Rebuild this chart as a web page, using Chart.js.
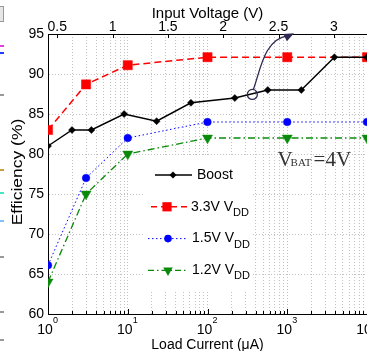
<!DOCTYPE html>
<html>
<head>
<meta charset="utf-8">
<script src="https://cdn.jsdelivr.net/npm/chart.js@4.4.1/dist/chart.umd.min.js"></script>
<style>
html, body { margin: 0; padding: 0; background: #fff; overflow: hidden; }
#wrap { width: 367px; height: 351px; position: relative; }
</style>
</head>
<body>
<div id="wrap"><canvas id="eff"></canvas></div>
<script>
// load current in uA, efficiency in %
const loadCurrentTicks = [1, 10, 100, 1000, 10000];
const voltageTicks = [0.5, 1, 1.5, 2, 2.5, 3];
const efficiencyTicks = [60, 65, 70, 75, 80, 85, 90, 95];

const boostCurrent = [1, 2, 3.5, 9, 23, 62, 220, 570, 1500, 3900, 10000];
const boostEff = [81, 83, 83, 85, 84.1, 86.4, 87, 88, 88, 92.1, 92.1];

const vddCurrent = [1, 3, 10, 100, 1000, 10000];
const vdd33Eff = [83, 88.7, 91.1, 92.1, 92.1, 92.1];
const vdd15Eff = [66.1, 77, 82, 84, 84, 84];
const vdd12Eff = [64, 75, 80, 82, 82, 82];

const voltageMin = 0.416;
const voltageMax = 3.3;

const FONT = "'Liberation Sans', Arial, sans-serif";
const NAVY = '#2e2850';
const GRID = '#c2c2c2';

function pts(xs, ys) {
    return xs.map(function (x, i) { return {x: x, y: ys[i]}; });
}

// every 1..9 step of every decade, for the dotted grid
var minorTicks = [];
for (var d = 0; d < 4; d++) {
    for (var m = 1; m < 10; m++) minorTicks.push(m * Math.pow(10, d));
}
minorTicks.push(10000);

var legendRows = [
    {text: 'Boost', sub: '', color: '#000', dash: [], style: 'diamond', lx: 155, mx: 173, tx: 197},
    {text: '3.3V V', sub: 'DD', color: '#ff0000', dash: [6, 4], style: 'square', lx: 151, mx: 167, tx: 191},
    {text: '1.5V V', sub: 'DD', color: '#0000ff', dash: [1.5, 2.5], style: 'circle', lx: 148, mx: 168, tx: 192},
    {text: '1.2V V', sub: 'DD', color: '#0a8a0a', dash: [6, 3, 1.5, 3], style: 'triangle', lx: 148, mx: 168, tx: 192}
];

function marker(c, style, x, y, color) {
    c.save();
    c.fillStyle = color;
    c.setLineDash([]);
    c.beginPath();
    if (style === 'diamond') {
        c.moveTo(x, y - 3.5); c.lineTo(x + 3.5, y); c.lineTo(x, y + 3.5); c.lineTo(x - 3.5, y);
    } else if (style === 'square') {
        c.rect(x - 4.6, y - 4.6, 9.2, 9.2);
    } else if (style === 'circle') {
        c.arc(x, y, 3.8, 0, Math.PI * 2);
    } else {
        c.moveTo(x - 4.8, y - 2.8); c.lineTo(x + 4.8, y - 2.8); c.lineTo(x, y + 5.5);
    }
    c.closePath();
    c.fill();
    c.restore();
}

var extras = {
    id: 'extras',
    afterDraw: function (chart) {
        var c = chart.ctx;
        var xs = chart.scales.x, ys = chart.scales.y, vs = chart.scales.x2;
        var area = chart.chartArea;

        // inside tick marks
        c.save();
        c.strokeStyle = '#000';
        c.lineWidth = 1;
        minorTicks.forEach(function (v) {
            var px = Math.round(xs.getPixelForValue(v)) + 0.5;
            var len = loadCurrentTicks.indexOf(v) >= 0 ? 5 : 3;
            c.beginPath(); c.moveTo(px, area.bottom); c.lineTo(px, area.bottom - len); c.stroke();
        });
        voltageTicks.forEach(function (v) {
            var px = Math.round(vs.getPixelForValue(v)) + 0.5;
            c.beginPath(); c.moveTo(px, area.top); c.lineTo(px, area.top + 4); c.stroke();
        });
        c.restore();

        // bottom labels 10^n
        c.save();
        c.fillStyle = '#000';
        loadCurrentTicks.forEach(function (v) {
            var px = xs.getPixelForValue(v);
            c.font = '14px ' + FONT;
            c.textAlign = 'center'; c.textBaseline = 'middle';
            c.fillText('10', px - 3, 330);
            c.font = '9px ' + FONT;
            c.textAlign = 'left';
            c.fillText(String(Math.round(Math.log10(v))), px + 5, 321);
        });
        c.restore();

        // y axis title, slightly stretched like the source figure
        c.save();
        c.fillStyle = '#000';
        c.font = '14px ' + FONT;
        c.translate(18, (area.top + area.bottom) / 2 - 2);
        c.rotate(-Math.PI / 2);
        c.scale(1.25, 1);
        c.textAlign = 'center'; c.textBaseline = 'middle';
        c.fillText('Efficiency (%)', 0, 0);
        c.restore();

        // legend
        c.save();
        c.fillStyle = '#fff';
        c.fillRect(144, 157, 109, 134);
        legendRows.forEach(function (r, i) {
            var y = 175 + i * 31.8;
            c.strokeStyle = r.color;
            c.lineWidth = r.style === 'circle' ? 1 : 1.4;
            c.setLineDash(r.dash);
            c.beginPath(); c.moveTo(r.lx, y); c.lineTo(188 + (i === 0 ? 4 : 0), y); c.stroke();
            marker(c, r.style, r.mx, y, r.color);
            c.fillStyle = '#000';
            c.font = '14px ' + FONT;
            c.textAlign = 'left'; c.textBaseline = 'middle';
            c.fillText(r.text, r.tx, y);
            if (r.sub) {
                var w = c.measureText(r.text).width;
                c.font = '11px ' + FONT;
                c.fillText(r.sub, r.tx + w, y + 6);
            }
        });
        c.restore();

        // V_BAT = 4V note
        c.save();
        c.fillStyle = '#333';
        c.textBaseline = 'alphabetic';
        c.textAlign = 'left';
        var nx = xs.getPixelForValue(757), ny = ys.getPixelForValue(78.5);
        c.font = '21px "Liberation Serif", "Times New Roman", serif';
        c.fillText('V', nx, ny);
        c.font = '11px "Liberation Serif", "Times New Roman", serif';
        c.fillText('BAT', nx + 13, ny);
        c.font = '21px "Liberation Serif", "Times New Roman", serif';
        c.fillText('=4V', nx + 36, ny);
        c.restore();

        // circled point with arrow to the input voltage axis
        c.save();
        var cx = xs.getPixelForValue(365), cy = ys.getPixelForValue(87.45);
        var p1x = xs.getPixelForValue(464), p1y = ys.getPixelForValue(90.5);
        var p2x = xs.getPixelForValue(506), p2y = ys.getPixelForValue(94.3);
        var ex = vs.getPixelForValue(2.64), ey = ys.getPixelForValue(95.1);
        c.strokeStyle = NAVY;
        c.fillStyle = NAVY;
        c.lineWidth = 1.3;
        c.beginPath(); c.arc(cx, cy, 5, 0, Math.PI * 2); c.stroke();
        c.beginPath();
        c.moveTo(cx + 1, cy - 5);
        c.bezierCurveTo(p1x, p1y, p2x, p2y, ex - 6, ey + 2.5);
        c.stroke();
        var ang = Math.atan2(-7, 14);
        c.beginPath();
        c.moveTo(ex, ey);
        c.lineTo(ex - 10 * Math.cos(ang) - 4 * Math.sin(ang), ey - 10 * Math.sin(ang) + 4 * Math.cos(ang));
        c.lineTo(ex - 10 * Math.cos(ang) + 4 * Math.sin(ang), ey - 10 * Math.sin(ang) - 4 * Math.cos(ang));
        c.closePath();
        c.fill();
        c.restore();

        // bits of the neighbouring figure at the left edge
        c.save();
        c.fillStyle = '#e6e6e6'; c.strokeStyle = '#999';
        c.fillRect(0, 6, 4, 15); c.strokeRect(-1, 6.5, 4.5, 15);
        [[46, '#e040e0'], [53, '#2040ff'], [95, '#999'], [170, '#c8a040'], [193, '#40e8c0'],
         [221, '#80c0ff'], [257, '#999'], [312, '#999'], [340, '#999']].forEach(function (b) {
            c.fillStyle = b[1];
            c.fillRect(0, b[0] - 1, 4, 2);
        });
        c.restore();
    }
};

var ctx = document.getElementById('eff');
var chart = new Chart(ctx, {
    type: 'line',
    data: {
        datasets: [
            {
                label: 'Boost', data: pts(boostCurrent, boostEff),
                borderColor: '#000', backgroundColor: '#000', borderWidth: 1.4,
                pointStyle: 'rectRot', pointRadius: 3.5, pointBorderWidth: 0.5
            },
            {
                label: '3.3V VDD', data: pts(vddCurrent, vdd33Eff),
                borderColor: '#ff0000', backgroundColor: '#ff0000', borderWidth: 1.5, borderDash: [7, 4],
                pointStyle: 'rect', pointRadius: 6.5, pointBorderWidth: 0.5
            },
            {
                label: '1.5V VDD', data: pts(vddCurrent, vdd15Eff),
                borderColor: '#0000ff', backgroundColor: '#0000ff', borderWidth: 1, borderDash: [1.5, 2.5],
                pointStyle: 'circle', pointRadius: 3.8, pointBorderWidth: 0.5
            },
            {
                label: '1.2V VDD', data: pts(vddCurrent, vdd12Eff),
                borderColor: '#0a8a0a', backgroundColor: '#0a8a0a', borderWidth: 1.3, borderDash: [7, 3, 1.5, 3],
                pointStyle: 'triangle', pointRotation: 180, pointRadius: 5.8, pointBorderWidth: 0.5
            }
        ]
    },
    options: {
        responsive: true,
        maintainAspectRatio: false,
        animation: false,
        // the source is cropped at the right, so no room is kept for the edge markers
        layout: {padding: 0, autoPadding: false},
        plugins: {legend: {display: false}, tooltip: {enabled: false}},
        scales: {
            x: {
                type: 'logarithmic', position: 'bottom', min: 1, max: 10000,
                afterBuildTicks: function (s) { s.ticks = minorTicks.map(function (v) { return {value: v}; }); },
                afterFit: function (s) { s.height = 37; },
                ticks: {display: false},
                grid: {color: GRID, lineWidth: 1, drawTicks: false},
                border: {display: true, color: '#000', width: 1, dash: [1, 2]},
                title: {display: true, text: 'Load Current (\u03bcA)', color: '#000',
                        font: {family: FONT, size: 14}, padding: {top: 0, bottom: -3}}
            },
            x2: {
                type: 'linear', position: 'top', min: voltageMin, max: voltageMax,
                afterBuildTicks: function (s) { s.ticks = voltageTicks.map(function (v) { return {value: v}; }); },
                afterFit: function (s) { s.height = 34; },
                ticks: {color: '#000', font: {family: FONT, size: 14}, padding: -2, maxRotation: 0, autoSkip: false,
                        callback: function (v) { return String(v); }},
                grid: {display: false, drawTicks: false},
                border: {display: true, color: '#000', width: 1},
                title: {display: true, text: 'Input Voltage (V)', color: '#000',
                        font: {family: FONT, size: 15}, padding: {top: 5, bottom: 0}}
            },
            y: {
                min: 60, max: 95,
                afterBuildTicks: function (s) { s.ticks = efficiencyTicks.map(function (v) { return {value: v}; }); },
                afterFit: function (s) { s.width = 48; },
                ticks: {color: '#000', font: {family: FONT, size: 14}, padding: 4},
                grid: {color: GRID, lineWidth: 1, drawTicks: false},
                border: {display: true, color: '#000', width: 1, dash: [1, 2]}
            }
        }
    },
    plugins: [extras]
});
</script>
</body>
</html>
